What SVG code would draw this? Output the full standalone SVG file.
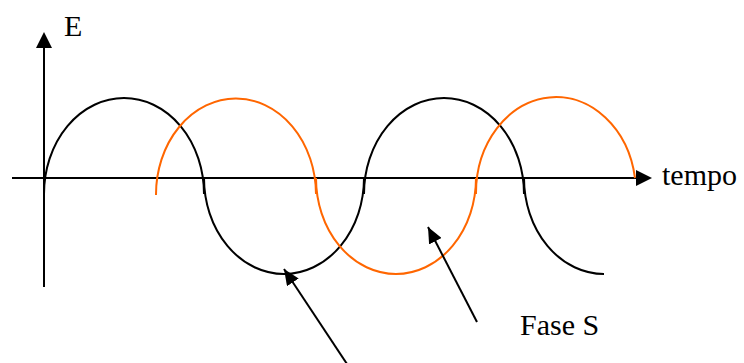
<svg xmlns="http://www.w3.org/2000/svg" width="744" height="363" viewBox="0 0 744 363">
<style>
.axis{stroke:#000;stroke-width:2;fill:none}
.wave{fill:none;stroke-width:2}
.blk{stroke:#000}
.org{stroke:#ff6600}
.ptr{stroke:#000;stroke-width:2;fill:none}
</style>
<defs>
<marker id="ahs" markerUnits="userSpaceOnUse" markerWidth="18" markerHeight="14" refX="16" refY="7" orient="auto">
<path d="M0,0 L16,7 L0,14 Z" fill="#000"/>
</marker>
</defs>
<g id="axes">
<line class="axis" x1="12" y1="178" x2="637" y2="178"/>
<polygon points="636,170 652,178 636,186" fill="#000"/>
<line class="axis" x1="44" y1="287" x2="44" y2="47"/>
<polygon points="36,48 44,32 52,48" fill="#000"/>
</g>
<g id="wave-black">
<path class="wave blk" d="M44,194 A80,96 0 0 1 204,194 M204,178 A80,96 0 0 0 364,178 M364,194 A80,96 0 0 1 524,194 M524,178 A80,96 0 0 0 604,274"/>
</g>
<g id="wave-orange">
<path class="wave org" d="M156,195 A80,96 0 0 1 316,194 M316,178 A80,96 0 0 0 476,178 M476,194 A80,96 0 0 1 635,178"/>
</g>
<g id="labels">
<text x="64" y="36" font-family="Liberation Serif" font-size="30" fill="#000">E</text>
<text x="662" y="185" font-family="Liberation Serif" font-size="30" fill="#000">tempo</text>
<text x="520" y="335" font-family="Liberation Serif" font-size="30" fill="#000">Fase S</text>
</g>
<g id="connectors">
<line class="ptr" x1="347" y1="364" x2="284" y2="269" marker-end="url(#ahs)"/>
<line class="ptr" x1="477" y1="322" x2="428" y2="227" marker-end="url(#ahs)"/>
</g>
</svg>
